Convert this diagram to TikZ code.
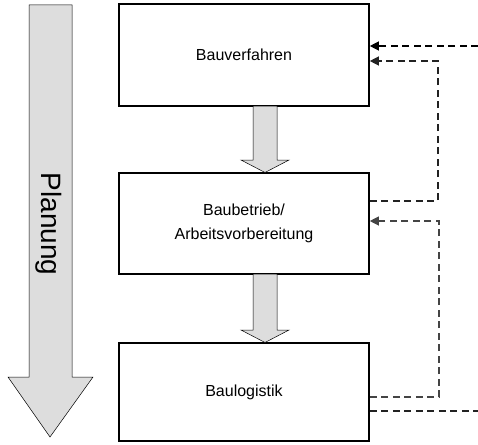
\documentclass[tikz,border=0pt]{standalone}
\usepackage{fontspec}
\setmainfont{Liberation Sans}
\usetikzlibrary{arrows.meta}
\definecolor{arrowfill}{HTML}{DDDDDD}
\definecolor{dashA}{HTML}{000000}
\definecolor{dashB}{HTML}{222222}
\definecolor{dashC}{HTML}{444444}
\tikzset{
  stagebox/.style={draw=black, line width=1.6pt, minimum width=250pt, minimum height=102pt, inner sep=0pt, align=center, font=\fontsize{16}{24}\selectfont},
  bigarrow/.style={draw=black, line width=0.5pt, fill=arrowfill},
  dline/.style={line width=1.2pt, dash pattern=on 7pt off 4.5pt},
  tip/.style={-{Triangle[length=9pt,width=9pt]}}
}
\begin{document}
\begin{tikzpicture}[x=1pt,y=-1pt]
\useasboundingbox (0,0) rectangle (478,444);
% Planung arrow
\draw[bigarrow] (29,5) -- (72,5) -- (72,377) -- (93,377) -- (50,437) -- (8,377) -- (29,377) -- cycle;
\node[rotate=-90, font=\fontsize{28}{30}\selectfont] (plan) at (49,224) {Planung};
% boxes
\node[stagebox] (b1) at (244,55) {Bauverfahren};
\node[stagebox, minimum height=101pt] (b2) at (244,223.5) {Baubetrieb/\\Arbeitsvorbereitung};
\node[stagebox, minimum height=98pt] (b3) at (244,392) {Baulogistik};
% small arrows between boxes
\draw[bigarrow] (253,106) -- (277,106) -- (277,160) -- (289,160) -- (265,172.5) -- (241,160) -- (253,160) -- cycle;
\draw[bigarrow] (253,274) -- (277,274) -- (277,330) -- (289,330) -- (265,342.5) -- (241,330) -- (253,330) -- cycle;
% dashed feedback lines
\coordinate (ea) at (478,46);
\coordinate (pb1) at (438,201);
\coordinate (pb2) at (438,61);
\coordinate (pc1) at (439,397);
\coordinate (pc2) at (439,221);
\coordinate (ed) at (478,411);
\draw[dline, dashA, tip] (ea) -- (ea -| b1.east);
\draw[dline, dashB, tip] (pb1 -| b2.east) -- (pb1) -- (pb2) -- (pb2 -| b1.east);
\draw[dline, dashC, tip] (pc1 -| b3.east) -- (pc1) -- (pc2) -- (pc2 -| b2.east);
\draw[dline, dashB] (ed -| b3.east) -- (ed);
\end{tikzpicture}
\end{document}
